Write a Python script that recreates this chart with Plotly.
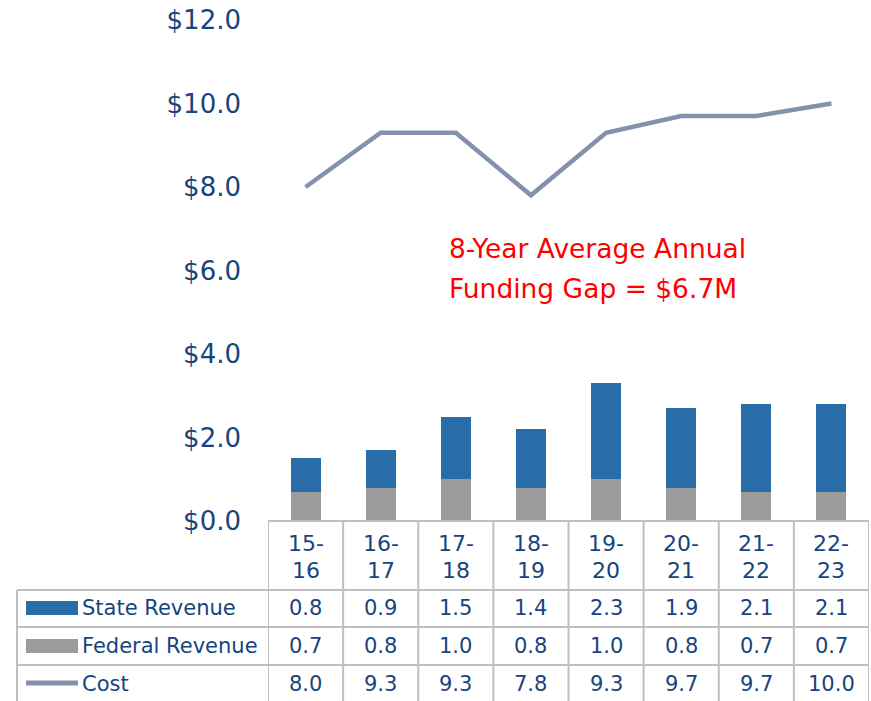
import plotly.graph_objects as go

# Fiscal years and funding figures ($ millions)
years = ["15-16", "16-17", "17-18", "18-19", "19-20", "20-21", "21-22", "22-23"]
state_revenue = [0.8, 0.9, 1.5, 1.4, 2.3, 1.9, 2.1, 2.1]
federal_revenue = [0.7, 0.8, 1.0, 0.8, 1.0, 0.8, 0.7, 0.7]
cost = [8.0, 9.3, 9.3, 7.8, 9.3, 9.7, 9.7, 10.0]
y_ticks = [0, 2, 4, 6, 8, 10, 12]

W, H = 871, 701
FONT = "DejaVu Sans"
TEXT = "#17447E"
BLUE = "#286DA8"
GRAY = "#9B9B9B"
LINE = "#8391AB"
GRID = "#BFBFBF"


def px_y(p):
    return 1 - p / H


def px_x(p):
    return p / W


x_idx = list(range(len(years)))

fig = go.Figure()
fig.add_trace(go.Bar(x=x_idx, y=federal_revenue, marker_color=GRAY, width=0.4,
                     marker_line_width=0, name="Federal Revenue"))
fig.add_trace(go.Bar(x=x_idx, y=state_revenue, marker_color=BLUE, width=0.4,
                     marker_line_width=0, name="State Revenue"))
fig.add_trace(go.Scatter(x=x_idx, y=cost, mode="lines",
                         line=dict(color=LINE, width=4.5), name="Cost"))

plot_left, plot_right = 268, 869
plot_top, plot_bottom = 20, 521

fig.update_layout(
    width=W, height=H,
    margin=dict(l=0, r=0, t=0, b=0, autoexpand=False),
    plot_bgcolor="white", paper_bgcolor="white",
    barmode="stack", showlegend=False,
    xaxis=dict(domain=[px_x(plot_left), px_x(plot_right)], range=[-0.5, 7.5],
               showticklabels=False, showgrid=False, zeroline=False, showline=False,
               automargin=False),
    yaxis=dict(domain=[px_y(plot_bottom), px_y(plot_top)], range=[0, 12],
               tickvals=y_ticks, ticktext=[f"${v:.1f}" for v in y_ticks],
               tickfont=dict(family=FONT, size=26, color=TEXT),
               ticklabelstandoff=26, ticks="", automargin=False,
               showgrid=False, zeroline=False, showline=False),
)

shapes = []
line_style = dict(color=GRID, width=2)
# Row boundaries of the data table
row_y = [plot_bottom, 590, 627, 665]
for i, yv in enumerate(row_y):
    x0 = plot_left if i == 0 else 17
    shapes.append(dict(type="line", xref="paper", yref="paper",
                       x0=px_x(x0), x1=px_x(plot_right), y0=px_y(yv), y1=px_y(yv),
                       line=line_style))
# Column boundaries
for k in range(len(years) + 1):
    shapes.append(dict(type="line", xref="x", yref="paper",
                       x0=k - 0.5, x1=k - 0.5, y0=px_y(plot_bottom), y1=px_y(H),
                       line=line_style))
shapes.append(dict(type="line", xref="paper", yref="paper",
                   x0=px_x(17), x1=px_x(17), y0=px_y(590), y1=px_y(H), line=line_style))

# Legend keys inside the table
shapes.append(dict(type="rect", xref="paper", yref="paper", x0=px_x(26), x1=px_x(78),
                   y0=px_y(615), y1=px_y(601), fillcolor=BLUE, line_width=0))
shapes.append(dict(type="rect", xref="paper", yref="paper", x0=px_x(26), x1=px_x(78),
                   y0=px_y(653), y1=px_y(639), fillcolor=GRAY, line_width=0))
shapes.append(dict(type="line", xref="paper", yref="paper", x0=px_x(26), x1=px_x(78),
                   y0=px_y(683), y1=px_y(683), line=dict(color=LINE, width=5)))

annotations = []
font_tbl = dict(family=FONT, size=21, color=TEXT)
font_hdr = dict(family=FONT, size=22, color=TEXT)
for i, yr in enumerate(years):
    a, b = yr.split("-")
    for txt, yc in ((f"{a}-", 543), (b, 570)):
        annotations.append(dict(xref="x", yref="paper", x=i, y=px_y(yc),
                                text=txt, showarrow=False, font=font_hdr,
                                xanchor="center", yanchor="middle"))
rows = [("State Revenue", state_revenue, 608),
        ("Federal Revenue", federal_revenue, 646),
        ("Cost", cost, 684)]
for label, vals, yc in rows:
    annotations.append(dict(xref="paper", yref="paper", x=px_x(80), y=px_y(yc),
                            text=label, showarrow=False, font=font_tbl,
                            xanchor="left", yanchor="middle"))
    for i, v in enumerate(vals):
        annotations.append(dict(xref="x", yref="paper", x=i, y=px_y(yc),
                                text=f"{v:.1f}", showarrow=False, font=font_tbl,
                                xanchor="center", yanchor="middle"))

# Funding gap note
for txt, yc in (("8-Year Average Annual", 249), ("Funding Gap = $6.7M", 288)):
    annotations.append(dict(xref="paper", yref="paper", x=px_x(447), y=px_y(yc),
                            text=txt, showarrow=False, xanchor="left", yanchor="middle",
                            font=dict(family=FONT, size=26.5, color="#FF0000")))

fig.update_layout(shapes=shapes, annotations=annotations)
fig.write_html("out.html")
